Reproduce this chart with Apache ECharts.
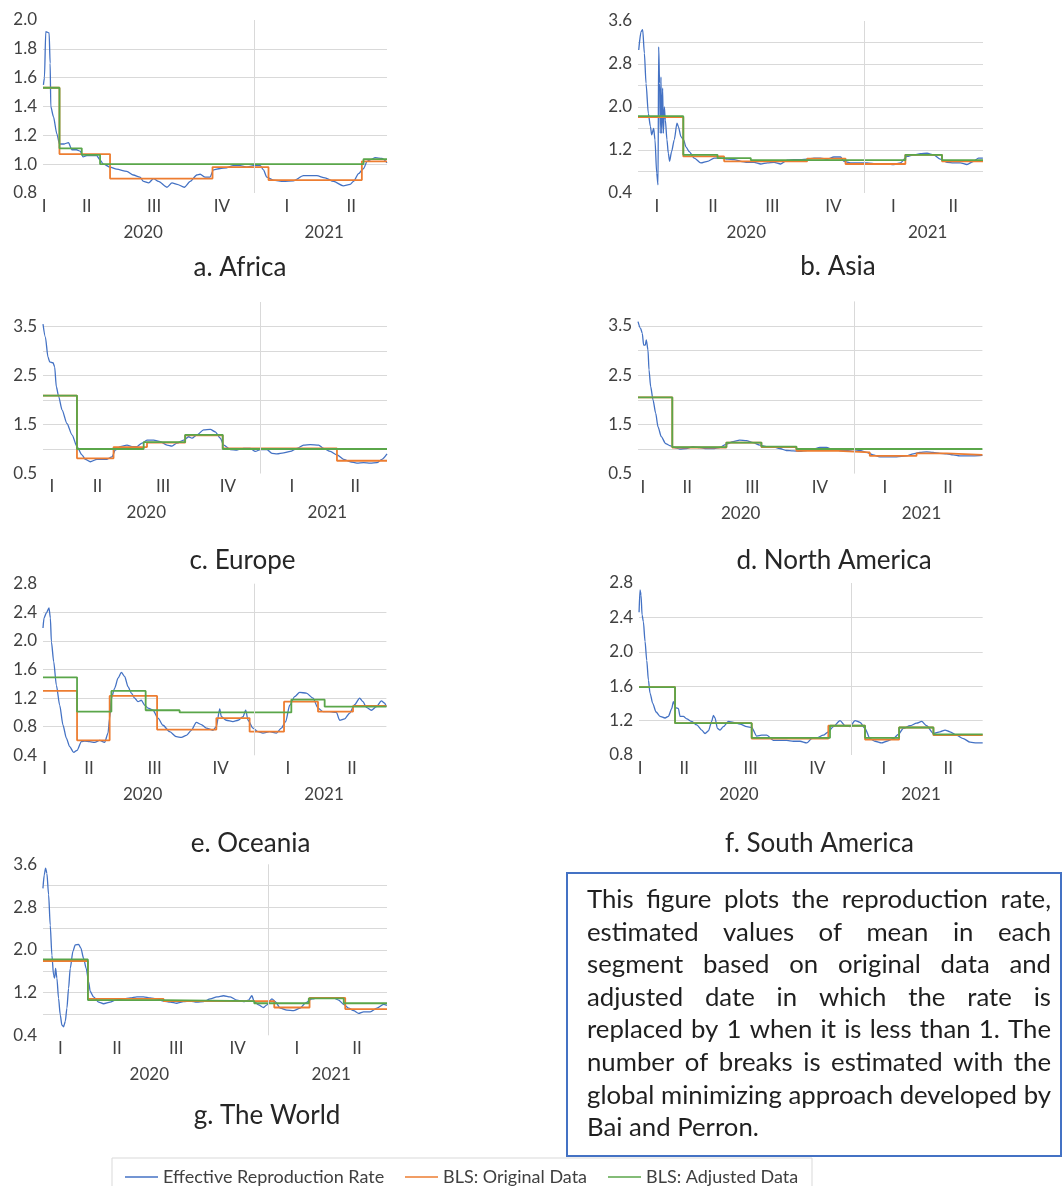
<!DOCTYPE html>
<html><head><meta charset="utf-8">
<script src="https://cdn.jsdelivr.net/npm/echarts@6/dist/echarts.min.js"></script>
<style>html,body{margin:0;padding:0;background:#fff}#chart{width:1064px;height:1186px}</style>
</head><body><div id="chart"></div>
<script>
// ---------- tick labels / names ----------
const quarterNames = ['I','II','III','IV','I','II'];
const yearNames = ['2020','2021'];
const seriesNames = ['Effective Reproduction Rate','BLS: Original Data','BLS: Adjusted Data'];
// x values are days counted from 1 Jan 2020 (day 366 = 1 Jan 2021)
const yearBoundaryDay = 366;

// ---------- a. Africa ----------
const africaRt = [[76.6,1.55],[78,1.6],[79.8,1.92],[84.4,1.91],[85.8,1.7],[86.7,1.4],[90.3,1.33],[95,1.21],[98.6,1.14],[105,1.14],[111,1.15],[115.5,1.1],[122,1.1],[127,1.09],[131,1.05],[136,1.06],[149.6,1.06],[154,1.03],[159,1.0],[168,0.98],[177,0.965],[191,0.95],[200,0.925],[209,0.91],[214,0.88],[221,0.87],[227.6,0.9],[234.5,0.88],[246,0.84],[253,0.87],[260,0.86],[270,0.84],[278,0.88],[287,0.925],[291.6,0.93],[298.5,0.91],[305,0.91],[310,0.96],[319,0.97],[328,0.975],[337,0.99],[346.5,0.99],[355.7,0.98],[364.8,0.99],[374,0.99],[378.5,0.96],[383,0.91],[392,0.89],[406,0.88],[419.7,0.885],[433.4,0.92],[451.7,0.92],[463,0.905],[474.6,0.88],[488,0.85],[497.4,0.86],[502,0.88],[509,0.935],[516,0.97],[520.6,1.02],[525,1.03],[532,1.045],[541,1.04],[548,1.01]];
const africaOrigBreaks = [76, 98.6, 168, 308.6, 385.4, 513.5];
const africaOrigMeans  = [1.53, 1.07, 0.90, 0.98, 0.89, 1.02];
const africaAdjBreaks  = [76, 98.6, 129.2, 154.3, 515.8];
const africaAdjMeans   = [1.53, 1.11, 1.065, 1.0, 1.035];

// ---------- b. Asia ----------
const asiaRt = [[24.1,3.06],[27.6,3.4],[30.1,3.44],[32.7,3.0],[35.2,2.44],[38.7,1.88],[41.8,1.64],[43.8,1.48],[46.8,1.6],[48.8,1.39],[51.4,0.77],[53.4,0.55],[54.4,3.12],[55.8,2.44],[56.8,1.51],[57.9,2.56],[58.9,1.51],[60.4,2.35],[61.5,1.51],[63,2.0],[64.5,1.76],[67,1.39],[69,1.14],[71,0.99],[74,1.17],[78.1,1.39],[82.2,1.7],[84.2,1.64],[88.2,1.45],[92.3,1.39],[95.8,1.26],[100.8,1.17],[108.4,1.05],[118.5,0.96],[128.6,0.99],[138.7,1.05],[148.8,1.05],[158.9,1.03],[169,1.02],[179.1,0.99],[189.2,0.97],[199.3,0.97],[209.4,0.94],[219.5,0.96],[229.6,0.97],[239.7,0.94],[249.8,1.01],[259.9,1.02],[270,1.02],[280.1,1.03],[290.2,1.05],[300.3,1.05],[310.4,1.03],[320.5,1.07],[330.6,1.07],[335.7,0.99],[345.8,0.96],[355.9,0.96],[371,0.96],[386.2,0.94],[401.4,0.94],[411.5,0.93],[421.6,0.96],[431.7,1.08],[441.8,1.11],[451.9,1.13],[462,1.14],[472,1.11],[482.2,1.03],[492.3,0.97],[502.4,0.96],[512.5,0.96],[522.6,0.93],[532.7,0.99],[540.2,1.05],[546.8,1.05]];
const asiaOrigBreaks = [23, 91.8, 153.8, 280, 338.2, 429.1, 484.7];
const asiaOrigMeans  = [1.81, 1.08, 0.99, 1.04, 0.94, 1.11, 0.99];
const asiaAdjBreaks  = [23, 91.8, 143.8, 194.3, 429.1, 484.7];
const asiaAdjMeans   = [1.83, 1.11, 1.05, 1.01, 1.11, 1.01];

// ---------- c. Europe ----------
const europeRt = [[59.5,3.55],[62.8,3.29],[66.5,2.88],[68.9,2.78],[73.6,2.76],[75.9,2.68],[78.3,2.27],[81.6,2.07],[86.3,1.8],[93.3,1.52],[100.4,1.29],[107.4,1.05],[114.5,0.88],[119.2,0.79],[126.2,0.74],[135.6,0.79],[149.7,0.79],[156.8,0.84],[161.5,0.98],[168.5,1.05],[178,1.08],[185,1.05],[192,1.05],[199.1,1.12],[206.2,1.18],[215.6,1.18],[225,1.15],[234.4,1.08],[241.4,1.06],[248.5,1.12],[257.9,1.18],[264.9,1.25],[269.6,1.22],[276.7,1.29],[286.1,1.39],[295.5,1.4],[302.5,1.35],[309.6,1.22],[314.3,1.08],[323.7,0.99],[333.1,0.98],[342.5,1.01],[351.9,1.01],[359,0.95],[366,0.99],[375.4,0.99],[382.5,0.91],[389.5,0.9],[398.9,0.92],[408.3,0.95],[417.7,1.01],[427.1,1.08],[436.5,1.09],[448.3,1.08],[455.3,1.01],[464.7,0.95],[474.1,0.88],[483.5,0.79],[492.9,0.74],[502.3,0.71],[511.7,0.72],[521.1,0.71],[530.5,0.72],[537.6,0.79],[544.7,0.9]];
const europeOrigBreaks = [59.5, 107.4, 159, 206.2, 260, 313, 474.1];
const europeOrigMeans  = [2.09, 0.81, 1.04, 1.13, 1.28, 1.01, 0.76];
const europeAdjBreaks  = [59.5, 107.4, 201.5, 260, 313];
const europeAdjMeans   = [2.09, 1.0, 1.14, 1.29, 1.0];

// ---------- d. North America ----------
const northAmericaRt = [[64,3.59],[67.7,3.45],[70,3.35],[71.9,3.11],[74.2,3.11],[75.6,3.22],[78,3.01],[79.4,2.61],[81.7,2.27],[85,2.0],[88.7,1.73],[92,1.45],[96.6,1.25],[102.7,1.11],[108.3,1.07],[115.3,1.03],[122.3,1.0],[131.6,1.01],[141,1.05],[150.3,1.03],[159.7,1.01],[169,1.01],[178.3,1.03],[187.7,1.1],[197,1.15],[206.3,1.18],[215.7,1.17],[225,1.13],[234.3,1.08],[243.7,1.05],[253,1.05],[262.4,1.01],[271.7,0.97],[281,0.96],[290.4,0.95],[299.7,0.97],[309,1.0],[318.4,1.03],[327.7,1.03],[337.1,0.99],[346.4,0.97],[355.7,0.97],[365,0.95],[374.4,0.97],[383.7,0.93],[393,0.88],[402.4,0.84],[411.8,0.84],[425.8,0.84],[439.8,0.86],[449.1,0.9],[458.4,0.93],[467.8,0.94],[477.1,0.93],[486.4,0.91],[495.8,0.9],[505.1,0.88],[514.5,0.86],[523.8,0.86],[533.1,0.86],[546,0.87]];
const northAmericaOrigBreaks = [64, 112, 187.7, 236.7, 285.7, 344, 388.4, 453.8, 495.8];
const northAmericaOrigMeans  = [2.05, 1.03, 1.13, 1.04, 0.96, 0.93, 0.86, 0.91, 0.88];
const northAmericaAdjBreaks  = [64, 112, 187.7, 236.7, 285.7];
const northAmericaAdjMeans   = [2.05, 1.04, 1.13, 1.05, 1.0];

// ---------- e. Oceania ----------
const oceaniaRt = [[73.2,2.18],[74.6,2.32],[77.8,2.39],[81.5,2.46],[83.4,2.32],[84.8,1.99],[88,1.71],[91.7,1.38],[96.3,1.1],[100.9,0.82],[105.5,0.64],[110.1,0.52],[115.7,0.44],[120.3,0.47],[126.3,0.59],[130.9,0.6],[137.8,0.59],[144.7,0.58],[151.6,0.61],[158.5,0.58],[163.1,0.71],[165.4,0.92],[167.8,1.2],[172.4,1.34],[177,1.48],[181.6,1.56],[186.2,1.5],[190.8,1.36],[195.4,1.27],[200,1.2],[204.6,1.15],[209.2,1.17],[213.9,1.1],[218.5,1.06],[225.4,1.03],[232.3,0.92],[239.2,0.82],[248.4,0.73],[257.7,0.66],[264.6,0.65],[271.5,0.68],[278.4,0.75],[285.3,0.86],[292.2,0.83],[299.1,0.78],[308.4,0.75],[313,0.8],[317.6,1.05],[319.9,0.94],[326.8,0.89],[336,0.87],[343,0.89],[349.9,0.94],[353.6,1.03],[356.8,0.89],[363.7,0.78],[370.6,0.73],[377.5,0.71],[386.7,0.73],[396,0.71],[402.9,0.78],[408.9,0.87],[414.4,1.1],[421.3,1.22],[428.2,1.28],[437.5,1.27],[446.7,1.2],[453.6,1.06],[460.5,1.01],[469.7,1.01],[479,1.0],[483.6,0.89],[490.5,0.91],[497.4,0.99],[504.3,1.11],[511.2,1.2],[515.8,1.15],[520.4,1.07],[527.4,1.03],[534.3,1.08],[541.2,1.16],[545.8,1.13],[548,1.08]];
const oceaniaOrigBreaks = [73.2, 120.3, 165.4, 231, 313, 359, 406.6, 453.6, 502];
const oceaniaOrigMeans  = [1.30, 0.61, 1.23, 0.76, 0.92, 0.73, 1.15, 1.01, 1.09];
const oceaniaAdjBreaks  = [73.2, 120.3, 167.8, 215.2, 262.2, 416.7, 462.8];
const oceaniaAdjMeans   = [1.49, 1.01, 1.30, 1.03, 1.0, 1.18, 1.08];

// ---------- f. South America ----------
const southAmericaRt = [[74.7,2.46],[76,2.72],[77.4,2.66],[78.8,2.43],[80.6,2.35],[82.9,2.12],[85.2,1.9],[87.5,1.67],[89.7,1.52],[93.4,1.4],[98,1.3],[103.4,1.25],[110.3,1.23],[114.9,1.25],[119.4,1.34],[121.7,1.42],[124.9,1.35],[128.6,1.34],[130.8,1.25],[135.4,1.25],[140,1.22],[146.8,1.19],[153.7,1.15],[160.5,1.09],[165.1,1.05],[169.7,1.08],[174.2,1.19],[176.5,1.26],[178.8,1.23],[182,1.11],[185.6,1.09],[190.2,1.13],[197,1.19],[203.9,1.18],[213,1.16],[222.2,1.13],[229,1.12],[235.9,1.02],[242.7,1.03],[249.6,1.03],[258.7,0.97],[267.8,0.97],[277,0.97],[286.1,0.96],[295.2,0.96],[304.4,0.94],[311.2,0.99],[318.1,1.0],[327.2,1.03],[334,1.07],[340.9,1.13],[350,1.2],[356.9,1.14],[363.7,1.13],[370.6,1.2],[377.4,1.18],[384.3,1.11],[391.1,0.99],[398,0.96],[407.1,0.94],[413.9,0.96],[423.1,0.99],[429.9,1.04],[436.8,1.11],[445.9,1.14],[455,1.17],[461.9,1.19],[468.7,1.14],[477.9,1.05],[487,1.07],[493.9,1.09],[500.7,1.07],[509.8,1.03],[519,0.99],[528.1,0.95],[537.2,0.94],[545.5,0.94]];
const southAmericaOrigBreaks = [74.6, 124, 229, 334, 384.3, 431, 478];
const southAmericaOrigMeans  = [1.59, 1.17, 0.99, 1.14, 0.98, 1.12, 1.03];
const southAmericaAdjBreaks  = [74.6, 124, 229, 336.3, 384.3, 431, 478];
const southAmericaAdjMeans   = [1.59, 1.17, 1.0, 1.14, 1.0, 1.12, 1.04];

// ---------- g. The World ----------
const worldRt = [[23.6,3.15],[25.6,3.4],[27.6,3.53],[29.6,3.43],[32.2,3.03],[34.7,2.46],[37.2,1.9],[39.7,1.53],[41.3,1.47],[42.8,1.65],[44.8,1.47],[47.3,1.09],[49.9,0.78],[52.4,0.59],[54.9,0.56],[57.5,0.66],[60,0.91],[62.5,1.28],[65,1.65],[69.1,1.97],[72.6,2.09],[77.7,2.1],[81.2,2.03],[85.3,1.84],[89.3,1.65],[92.9,1.4],[95.4,1.22],[100.4,1.12],[108,1.02],[115.6,0.99],[125.7,1.02],[133.3,1.06],[146,1.08],[156.1,1.1],[166.2,1.12],[176.3,1.12],[186.4,1.1],[196.6,1.08],[206.7,1.04],[216.8,1.02],[226.9,1.0],[237,1.03],[247.1,1.04],[257.2,1.02],[267.4,1.03],[277.5,1.08],[287.6,1.12],[297.7,1.14],[307.8,1.12],[317.9,1.06],[328.1,1.03],[335.7,1.06],[340.7,1.14],[344.2,1.03],[350.8,0.97],[358.4,0.92],[363.5,0.97],[371.1,1.08],[376.1,1.03],[383.7,0.91],[393.8,0.87],[403.9,0.86],[414.1,0.91],[421.6,1.0],[431.8,1.08],[441.9,1.1],[452,1.09],[464.6,1.1],[472.2,1.06],[479.8,0.98],[487.4,0.91],[495,0.86],[502.6,0.81],[510.2,0.84],[520.3,0.84],[530.4,0.91],[540.5,0.98],[545.6,0.96]];
const worldOrigBreaks = [23.7, 91.8, 206.7, 374.6, 428.2, 482.3];
const worldOrigMeans  = [1.79, 1.08, 1.04, 0.92, 1.10, 0.89];
const worldAdjBreaks  = [23.7, 91.8, 206.7, 344.2, 427, 480];
const worldAdjMeans   = [1.82, 1.06, 1.04, 1.0, 1.09, 1.0];

// ---------- note text ----------
const noteLines = [
  'This figure plots the reproduction rate,',
  'estimated values of mean in each',
  'segment based on original data and',
  'adjusted date in which the rate is',
  'replaced by 1 when it is less than 1. The',
  'number of breaks is estimated with the',
  'global minimizing approach developed by',
  'Bai and Perron.'
];

// ---------- layout of panels ----------
const panels = [
  {title:'a. Africa', rt:africaRt, ob:africaOrigBreaks, om:africaOrigMeans, ab:africaAdjBreaks, am:africaAdjMeans,
   grid:[43,20,344,173], x:[76,548], y:[0.8,2.0,0.2,1], q:[77.5,136.1,228.5,321.4,410.6,498.9], yr:[213.4,461.8], t:[240,268]},
  {title:'b. Asia', rt:asiaRt, ob:asiaOrigBreaks, om:asiaOrigMeans, ab:asiaAdjBreaks, am:asiaAdjMeans,
   grid:[638,21,345,172], x:[23,547], y:[0.4,3.6,0.4,2], q:[51.5,136.8,227,319.9,410.7,502], yr:[187.5,463], t:[838,267]},
  {title:'c. Europe', rt:europeRt, ob:europeOrigBreaks, om:europeOrigMeans, ab:europeAdjBreaks, am:europeAdjMeans,
   grid:[43,302,344,171.5], x:[59.5,544.7], y:[0.5,4.0,0.5,2], q:[72.2,136.5,228.8,320.4,410.7,500], yr:[205.2,460.5], t:[242.5,561]},
  {title:'d. North America', rt:northAmericaRt, ob:northAmericaOrigBreaks, om:northAmericaOrigMeans, ab:northAmericaAdjBreaks, am:northAmericaAdjMeans,
   grid:[638,301.4,344.4,172.2], x:[64,546], y:[0.5,4.0,0.5,2], q:[70.9,133,224,318.4,409.4,498], yr:[207.7,460.8], t:[834,561]},
  {title:'e. Oceania', rt:oceaniaRt, ob:oceaniaOrigBreaks, om:oceaniaOrigMeans, ab:oceaniaAdjBreaks, am:oceaniaAdjMeans,
   grid:[43,583.7,343.4,171.6], x:[73.2,548.2], y:[0.4,2.8,0.4,1], q:[75.5,136.8,227.7,319,412,500.6], yr:[211,462], t:[250.5,844]},
  {title:'f. South America', rt:southAmericaRt, ob:southAmericaOrigBreaks, om:southAmericaOrigMeans, ab:southAmericaAdjBreaks, am:southAmericaAdjMeans,
   grid:[639,583,343.7,172], x:[74.6,545.5], y:[0.8,2.8,0.4,1], q:[76,136.7,227.6,318.9,410.2,498.3], yr:[211.6,461], t:[819.5,844]},
  {title:'g. The World', rt:worldRt, ob:worldOrigBreaks, om:worldOrigMeans, ab:worldAdjBreaks, am:worldAdjMeans,
   grid:[43,864.3,344,171], x:[23.7,545.7], y:[0.4,3.6,0.4,2], q:[49.9,136,225.9,319,409.1,500.1], yr:[185,461.1], t:[267,1116]}
];

const FONT = 'Lato';
const C_BLUE = '#4472C4', C_ORANGE = '#ED7D31', C_GREEN = '#5AA64A', C_GRID = '#D9D9D9', C_LABEL = '#404040';

function stepData(breaks, means, end) {
  const d = breaks.map((b, i) => [b, means[i]]);
  d.push([end, means[means.length - 1]]);
  return d;
}
function pick(v, positions, names) {
  for (let i = 0; i < positions.length; i++) if (Math.abs(positions[i] - v) < 1e-6) return names[i];
  return '';
}

const grids = [], xAxes = [], yAxes = [], series = [], graphics = [];
panels.forEach((p, i) => {
  grids.push({left:p.grid[0], top:p.grid[1], width:p.grid[2], height:p.grid[3]});
  const baseX = {type:'value', gridIndex:i, min:p.x[0], max:p.x[1], axisLine:{show:false}, axisTick:{show:false}, splitLine:{show:false}};
  xAxes.push(Object.assign({}, baseX, {
    axisLabel:{customValues:p.q, formatter:(v) => pick(v, p.q, quarterNames), margin:5, fontSize:17, color:C_LABEL, fontFamily:FONT}
  }));
  xAxes.push(Object.assign({}, baseX, {
    position:'bottom', offset:26,
    axisLabel:{customValues:p.yr, formatter:(v) => pick(v, p.yr, yearNames), margin:5, fontSize:17, color:C_LABEL, fontFamily:FONT}
  }));
  yAxes.push({
    type:'value', gridIndex:i, min:p.y[0], max:p.y[1], interval:p.y[2],
    axisLine:{show:false}, axisTick:{show:false},
    splitLine:{show:true, showMinLine:false, showMaxLine:false, lineStyle:{color:C_GRID, width:1}},
    axisLabel:{margin:6, fontSize:17, color:C_LABEL, fontFamily:FONT,
      formatter:(v) => { const k = Math.round((v - p.y[0]) / p.y[2]); return k % p.y[3] === 0 ? v.toFixed(1) : ''; }}
  });
  series.push({
    type:'line', name:seriesNames[0], xAxisIndex:2*i, yAxisIndex:i, data:p.rt,
    symbol:'none', smooth:0.25, smoothMonotone:'x', z:2,
    lineStyle:{color:C_BLUE, width:1.3}, itemStyle:{color:C_BLUE},
    markLine:{silent:true, symbol:'none', label:{show:false}, animation:false,
      lineStyle:{color:C_GRID, type:'solid', width:1}, data:[{xAxis:yearBoundaryDay}]}
  });
  series.push({
    type:'line', name:seriesNames[1], xAxisIndex:2*i, yAxisIndex:i, step:'end',
    data:stepData(p.ob, p.om, p.x[1]), symbol:'none', z:3,
    lineStyle:{color:C_ORANGE, width:1.8}, itemStyle:{color:C_ORANGE}
  });
  series.push({
    type:'line', name:seriesNames[2], xAxisIndex:2*i, yAxisIndex:i, step:'end',
    data:stepData(p.ab, p.am, p.x[1]), symbol:'none', z:4,
    lineStyle:{color:C_GREEN, width:1.8}, itemStyle:{color:C_GREEN}
  });
  graphics.push({type:'text', x:p.t[0], y:p.t[1], silent:true,
    style:{text:p.title, fontSize:26, fontFamily:FONT, fill:'#262626', textAlign:'center', textVerticalAlign:'middle'}});
});

// ---- note box (justified text) ----
const box = {x:567, y:873, w:494, h:283, textLeft:587, textRight:1051, firstLine:900, lineStep:32.55};
graphics.push({type:'rect', silent:true, shape:{x:box.x, y:box.y, width:box.w, height:box.h},
  style:{fill:'#fff', stroke:C_BLUE, lineWidth:2}});
const mctx = document.createElement('canvas').getContext('2d');
const textW = box.textRight - box.textLeft;
mctx.font = '100px ' + FONT;
let noteFs = Math.max(20, Math.min(26, textW / mctx.measureText(noteLines[6]).width * 100));
mctx.font = noteFs + 'px ' + FONT;
noteLines.forEach((line, li) => {
  const y = box.firstLine + li * box.lineStep;
  const words = line.split(' ');
  const widths = words.map(w => mctx.measureText(w).width);
  const total = widths.reduce((a, b) => a + b, 0);
  const last = li === noteLines.length - 1;
  const gap = last ? mctx.measureText(' ').width : (textW - total) / (words.length - 1);
  let x = box.textLeft;
  words.forEach((w, wi) => {
    graphics.push({type:'text', x:x, y:y, silent:true,
      style:{text:w, fontSize:noteFs, fontFamily:FONT, fill:'#1f1f1f', textAlign:'left', textVerticalAlign:'middle'}});
    x += widths[wi] + gap;
  });
});

// ---- legend frame ----
graphics.push({type:'rect', silent:true, shape:{x:112, y:1158, width:700, height:40},
  style:{fill:'none', stroke:C_GRID, lineWidth:1}});

const legendLefts = [120, 400, 603];
const legends = seriesNames.map((n, i) => ({
  data:[n], left:legendLefts[i], top:1163, icon:'rect', itemWidth:33, itemHeight:1.6, selectedMode:false,
  textStyle:{fontSize:18, color:C_LABEL, fontFamily:FONT}
}));

const chart = echarts.init(document.getElementById('chart'), null, {renderer:'canvas'});
chart.setOption({
  backgroundColor:'#fff',
  animation:false,
  textStyle:{fontFamily:FONT},
  grid:grids, xAxis:xAxes, yAxis:yAxes, series:series,
  legend:legends,
  graphic:graphics
});
</script></body></html>
